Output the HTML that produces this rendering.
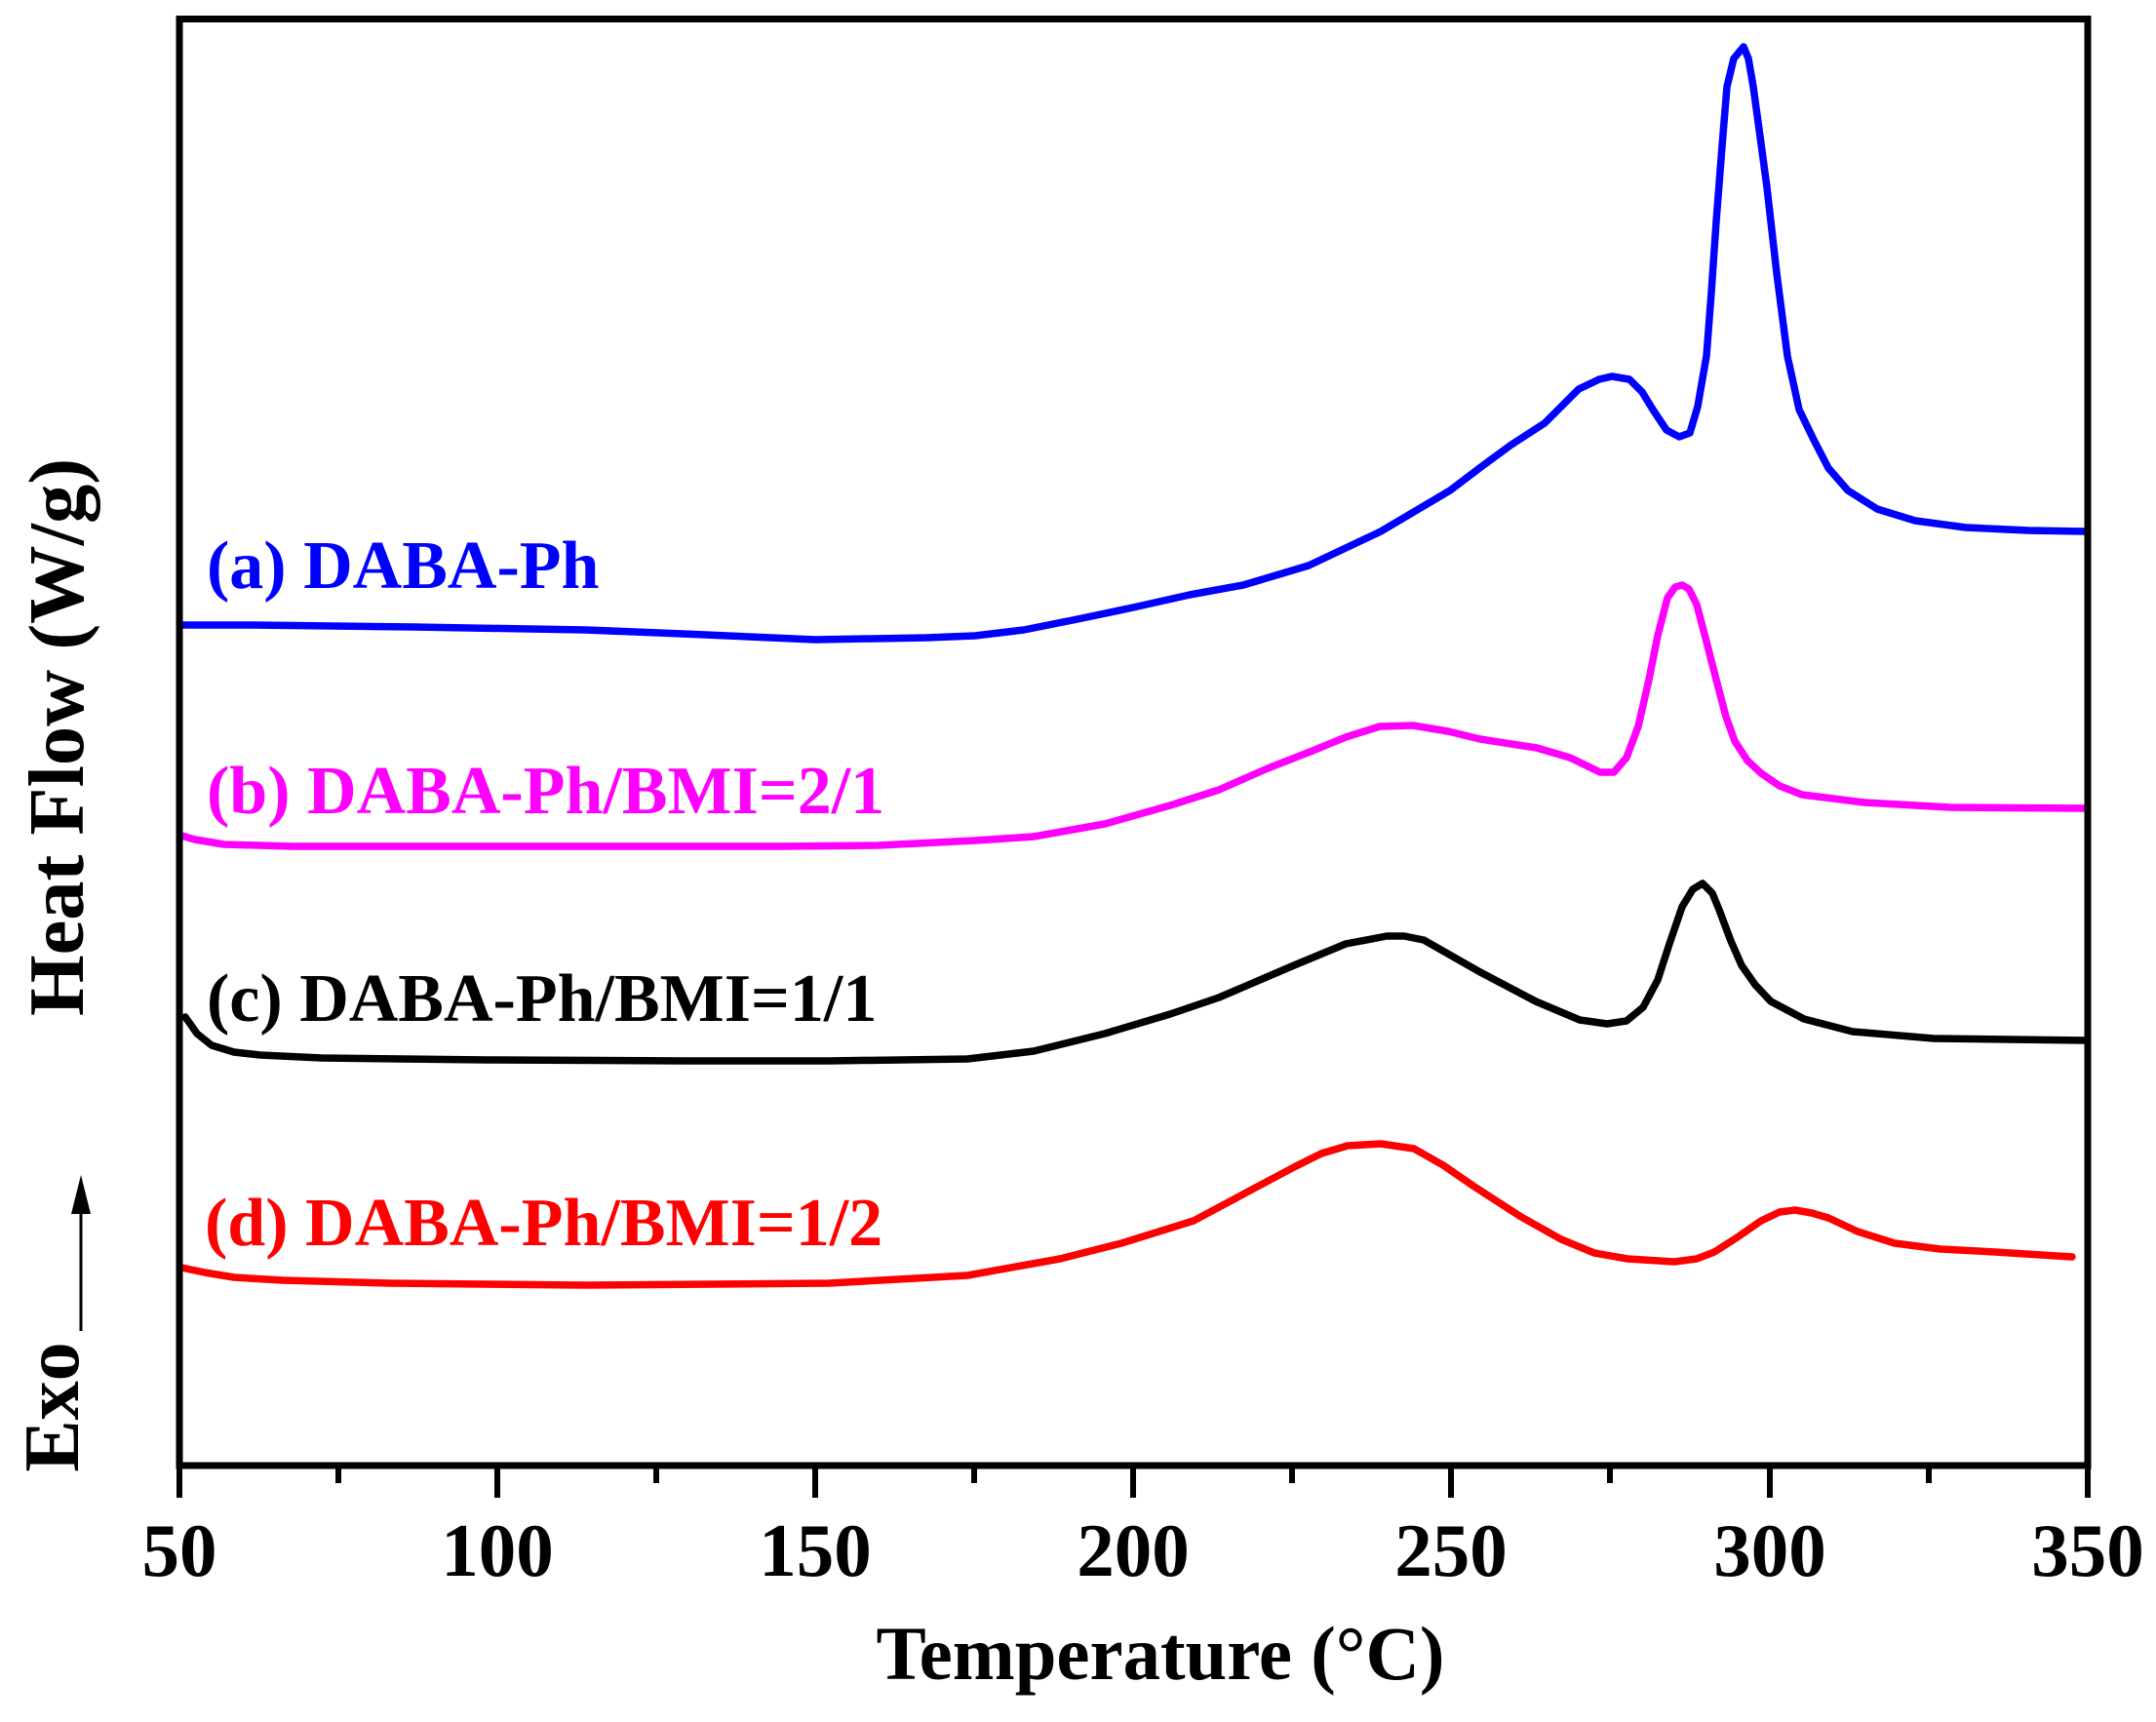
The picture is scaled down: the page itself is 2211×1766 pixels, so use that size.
<!DOCTYPE html>
<html>
<head>
<meta charset="utf-8">
<style>
  html, body { margin:0; padding:0; background:#ffffff; }
  svg { display:block; }
  text { font-family: "Liberation Serif", "Times New Roman", serif; font-weight: bold; }
</style>
</head>
<body>
<svg width="2211" height="1766" viewBox="0 0 2211 1766" xmlns="http://www.w3.org/2000/svg">
  <rect x="0" y="0" width="2211" height="1766" fill="#ffffff"/>

  <!-- Curves -->
  <g fill="none" stroke-width="7.5" stroke-linejoin="round" stroke-linecap="round">
    <!-- (a) blue -->
    <polyline stroke="#0000ff" points="
      186,641 260,641 425,643 600,646 700,650 836,656 950,654 1000,652 1050,646 1100,636
      1162,623 1220,610 1275,600 1342,580 1416,545 1487,503 1520,478 1550,456
      1584,434 1619,399 1640,389 1653,386 1671,389 1684,402 1695,420 1709,441 1722,448
      1733,444 1741,417 1750,365 1755,300 1760,227 1766,150 1771,89 1778,60 1788,48
      1793,60 1798,89 1805,140 1812,192 1822,280 1833,365 1845,420 1860,451 1875,480
      1895,503 1925,522 1964,534 2016,541 2080,544 2139,545"/>
    <!-- (b) magenta -->
    <polyline stroke="#ff00ff" points="
      186,857 200,861 230,866 300,868 600,868 800,868 900,867 1000,862 1060,858
      1133,845 1200,826 1250,810 1300,788 1346,770 1380,756 1415,745 1449,744
      1485,750 1518,758 1576,767 1610,777 1641,792 1655,792 1668,777 1680,745
      1691,697 1700,652 1710,613 1718,602 1725,600 1732,604 1740,620 1750,658
      1760,697 1770,735 1779,760 1792,780 1806,793 1825,806 1848,815 1912,823
      2000,828 2139,829"/>
    <!-- (c) black -->
    <polyline stroke="#000000" points="
      190,1043 195,1050 202,1060 217,1072 240,1079 267,1082 330,1085 500,1087
      700,1088 850,1088 992,1086 1060,1078 1133,1060 1200,1040 1250,1023 1327,990
      1380,968 1422,960 1440,960 1460,964 1518,997 1575,1027 1620,1046 1648,1050
      1668,1047 1685,1033 1700,1005 1712,968 1725,930 1736,912 1746,906 1756,916
      1763,933 1775,965 1786,990 1800,1010 1816,1027 1850,1045 1900,1058 1983,1065
      2139,1067"/>
    <!-- (d) red -->
    <polyline stroke="#ff0000" points="
      186,1300 210,1305 240,1310 290,1313 400,1316 600,1318 850,1316 992,1308
      1087,1291 1150,1275 1224,1252 1280,1222 1327,1197 1355,1183 1382,1175
      1416,1173 1450,1178 1480,1195 1512,1217 1560,1248 1601,1271 1635,1285
      1669,1291 1717,1294 1740,1291 1758,1284 1780,1270 1806,1252 1825,1243
      1841,1241 1858,1244 1875,1249 1905,1263 1943,1275 1990,1281 2046,1284
      2125,1289"/>
  </g>

  <!-- Axes frame -->
  <rect x="184" y="19.5" width="1957" height="1483.5" fill="none" stroke="#000" stroke-width="7"/>

  <!-- Ticks -->
  <g stroke="#000" stroke-width="6">
    <line x1="184" y1="1503" x2="184" y2="1536"/>
    <line x1="510" y1="1503" x2="510" y2="1536"/>
    <line x1="836" y1="1503" x2="836" y2="1536"/>
    <line x1="1162" y1="1503" x2="1162" y2="1536"/>
    <line x1="1488" y1="1503" x2="1488" y2="1536"/>
    <line x1="1815" y1="1503" x2="1815" y2="1536"/>
    <line x1="2141" y1="1503" x2="2141" y2="1536"/>
    <line x1="347" y1="1503" x2="347" y2="1521"/>
    <line x1="673" y1="1503" x2="673" y2="1521"/>
    <line x1="999" y1="1503" x2="999" y2="1521"/>
    <line x1="1325" y1="1503" x2="1325" y2="1521"/>
    <line x1="1651" y1="1503" x2="1651" y2="1521"/>
    <line x1="1978" y1="1503" x2="1978" y2="1521"/>
  </g>

  <!-- Tick labels -->
  <g font-size="77" text-anchor="middle" fill="#000">
    <text x="184" y="1616">50</text>
    <text x="510" y="1616">100</text>
    <text x="836" y="1616">150</text>
    <text x="1162" y="1616">200</text>
    <text x="1488" y="1616">250</text>
    <text x="1815" y="1616">300</text>
    <text x="2141" y="1616">350</text>
  </g>

  <!-- Axis titles -->
  <text x="1190" y="1722" font-size="78" text-anchor="middle" fill="#000" textLength="583" lengthAdjust="spacingAndGlyphs">Temperature (°C)</text>
  <text transform="translate(85,756) rotate(-90)" font-size="80" text-anchor="middle" fill="#000" textLength="572" lengthAdjust="spacingAndGlyphs">Heat Flow (W/g)</text>
  <text transform="translate(80,1443) rotate(-90)" font-size="80" text-anchor="middle" fill="#000">Exo</text>

  <!-- Exo arrow -->
  <line x1="83" y1="1365" x2="83" y2="1240" stroke="#000" stroke-width="3"/>
  <polygon points="83,1205 73,1245 93,1245" fill="#000"/>

  <!-- Series labels -->
  <g font-size="70">
    <text x="212" y="603" fill="#0000ff">(a) DABA-Ph</text>
    <text x="212" y="834" fill="#ff00ff">(b) DABA-Ph/BMI=2/1</text>
    <text x="212" y="1047" fill="#000000">(c) DABA-Ph/BMI=1/1</text>
    <text x="210" y="1277" fill="#ff0000">(d) DABA-Ph/BMI=1/2</text>
  </g>
</svg>
</body>
</html>
